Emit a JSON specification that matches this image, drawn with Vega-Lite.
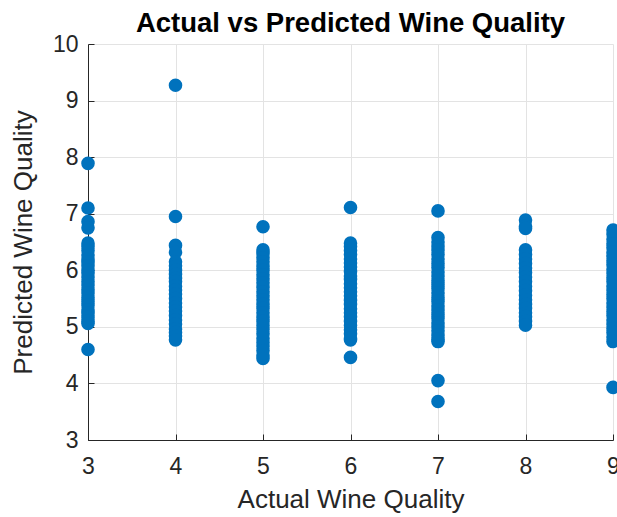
{
  "$schema": "https://vega.github.io/schema/vega-lite/v6.json",
  "autosize": {"type": "none"},
  "width": 525,
  "height": 396,
  "padding": {"left": 88, "top": 44, "right": 4, "bottom": 77},
  "background": "white",
  "title": {
    "text": "Actual vs Predicted Wine Quality",
    "font": "Liberation Sans",
    "fontSize": 27.5,
    "fontWeight": "bold",
    "color": "#000000",
    "anchor": "middle",
    "offset": 4,
    "dy": 8
  },
  "config": {
    "view": {"stroke": null},
    "axis": {
      "labelFont": "Liberation Sans",
      "titleFont": "Liberation Sans",
      "labelColor": "#262626",
      "titleColor": "#262626",
      "domainColor": "#262626",
      "tickColor": "#262626",
      "gridColor": "#e3e3e3",
      "gridWidth": 1,
      "domainWidth": 1,
      "tickWidth": 1,
      "tickSize": -6,
      "labelFontSize": 23,
      "titleFontSize": 26,
      "titleFontWeight": "normal",
      "grid": true
    }
  },
  "data": {
    "values": [
      {"actual": 3, "predicted": 7.89}, {"actual": 3, "predicted": 7.10}, {"actual": 3, "predicted": 6.86}, {"actual": 3, "predicted": 6.75},
      {"actual": 3, "predicted": 6.48}, {"actual": 3, "predicted": 6.42}, {"actual": 3, "predicted": 6.35}, {"actual": 3, "predicted": 6.27},
      {"actual": 3, "predicted": 6.20}, {"actual": 3, "predicted": 6.14}, {"actual": 3, "predicted": 6.08}, {"actual": 3, "predicted": 6.00},
      {"actual": 3, "predicted": 5.95}, {"actual": 3, "predicted": 5.88}, {"actual": 3, "predicted": 5.80}, {"actual": 3, "predicted": 5.74},
      {"actual": 3, "predicted": 5.66}, {"actual": 3, "predicted": 5.60}, {"actual": 3, "predicted": 5.52}, {"actual": 3, "predicted": 5.45},
      {"actual": 3, "predicted": 5.38}, {"actual": 3, "predicted": 5.30}, {"actual": 3, "predicted": 5.24}, {"actual": 3, "predicted": 5.17},
      {"actual": 3, "predicted": 5.10}, {"actual": 3, "predicted": 5.06}, {"actual": 3, "predicted": 4.60},
      {"actual": 4, "predicted": 9.27}, {"actual": 4, "predicted": 6.95}, {"actual": 4, "predicted": 6.44}, {"actual": 4, "predicted": 6.32},
      {"actual": 4, "predicted": 6.15}, {"actual": 4, "predicted": 6.08}, {"actual": 4, "predicted": 6.00}, {"actual": 4, "predicted": 5.93},
      {"actual": 4, "predicted": 5.86}, {"actual": 4, "predicted": 5.80}, {"actual": 4, "predicted": 5.72}, {"actual": 4, "predicted": 5.65},
      {"actual": 4, "predicted": 5.58}, {"actual": 4, "predicted": 5.50}, {"actual": 4, "predicted": 5.42}, {"actual": 4, "predicted": 5.35},
      {"actual": 4, "predicted": 5.28}, {"actual": 4, "predicted": 5.20}, {"actual": 4, "predicted": 5.12}, {"actual": 4, "predicted": 5.05},
      {"actual": 4, "predicted": 4.96}, {"actual": 4, "predicted": 4.90}, {"actual": 4, "predicted": 4.84}, {"actual": 4, "predicted": 4.77},
      {"actual": 5, "predicted": 6.77}, {"actual": 5, "predicted": 6.36}, {"actual": 5, "predicted": 6.30}, {"actual": 5, "predicted": 6.22},
      {"actual": 5, "predicted": 6.15}, {"actual": 5, "predicted": 6.07}, {"actual": 5, "predicted": 6.00}, {"actual": 5, "predicted": 5.92},
      {"actual": 5, "predicted": 5.85}, {"actual": 5, "predicted": 5.78}, {"actual": 5, "predicted": 5.70}, {"actual": 5, "predicted": 5.62},
      {"actual": 5, "predicted": 5.55}, {"actual": 5, "predicted": 5.48}, {"actual": 5, "predicted": 5.40}, {"actual": 5, "predicted": 5.33},
      {"actual": 5, "predicted": 5.25}, {"actual": 5, "predicted": 5.17}, {"actual": 5, "predicted": 5.10}, {"actual": 5, "predicted": 5.03},
      {"actual": 5, "predicted": 4.96}, {"actual": 5, "predicted": 4.88}, {"actual": 5, "predicted": 4.80}, {"actual": 5, "predicted": 4.73},
      {"actual": 5, "predicted": 4.66}, {"actual": 5, "predicted": 4.58}, {"actual": 5, "predicted": 4.50}, {"actual": 5, "predicted": 4.44},
      {"actual": 6, "predicted": 7.11}, {"actual": 6, "predicted": 6.48}, {"actual": 6, "predicted": 6.42}, {"actual": 6, "predicted": 6.35},
      {"actual": 6, "predicted": 6.28}, {"actual": 6, "predicted": 6.20}, {"actual": 6, "predicted": 6.13}, {"actual": 6, "predicted": 6.06},
      {"actual": 6, "predicted": 5.98}, {"actual": 6, "predicted": 5.90}, {"actual": 6, "predicted": 5.84}, {"actual": 6, "predicted": 5.76},
      {"actual": 6, "predicted": 5.69}, {"actual": 6, "predicted": 5.62}, {"actual": 6, "predicted": 5.55}, {"actual": 6, "predicted": 5.47},
      {"actual": 6, "predicted": 5.40}, {"actual": 6, "predicted": 5.32}, {"actual": 6, "predicted": 5.25}, {"actual": 6, "predicted": 5.18},
      {"actual": 6, "predicted": 5.10}, {"actual": 6, "predicted": 5.03}, {"actual": 6, "predicted": 4.95}, {"actual": 6, "predicted": 4.88},
      {"actual": 6, "predicted": 4.80}, {"actual": 6, "predicted": 4.77}, {"actual": 6, "predicted": 4.46},
      {"actual": 7, "predicted": 7.05}, {"actual": 7, "predicted": 6.58}, {"actual": 7, "predicted": 6.50}, {"actual": 7, "predicted": 6.43},
      {"actual": 7, "predicted": 6.36}, {"actual": 7, "predicted": 6.28}, {"actual": 7, "predicted": 6.20}, {"actual": 7, "predicted": 6.12},
      {"actual": 7, "predicted": 6.05}, {"actual": 7, "predicted": 5.97}, {"actual": 7, "predicted": 5.90}, {"actual": 7, "predicted": 5.82},
      {"actual": 7, "predicted": 5.75}, {"actual": 7, "predicted": 5.68}, {"actual": 7, "predicted": 5.60}, {"actual": 7, "predicted": 5.52},
      {"actual": 7, "predicted": 5.45}, {"actual": 7, "predicted": 5.37}, {"actual": 7, "predicted": 5.30}, {"actual": 7, "predicted": 5.22},
      {"actual": 7, "predicted": 5.15}, {"actual": 7, "predicted": 5.07}, {"actual": 7, "predicted": 5.00}, {"actual": 7, "predicted": 4.93},
      {"actual": 7, "predicted": 4.85}, {"actual": 7, "predicted": 4.78}, {"actual": 7, "predicted": 4.74}, {"actual": 7, "predicted": 4.05},
      {"actual": 7, "predicted": 3.68},
      {"actual": 8, "predicted": 6.89}, {"actual": 8, "predicted": 6.78}, {"actual": 8, "predicted": 6.74}, {"actual": 8, "predicted": 6.36},
      {"actual": 8, "predicted": 6.28}, {"actual": 8, "predicted": 6.20}, {"actual": 8, "predicted": 6.12}, {"actual": 8, "predicted": 6.04},
      {"actual": 8, "predicted": 5.96}, {"actual": 8, "predicted": 5.88}, {"actual": 8, "predicted": 5.80}, {"actual": 8, "predicted": 5.72},
      {"actual": 8, "predicted": 5.64}, {"actual": 8, "predicted": 5.56}, {"actual": 8, "predicted": 5.48}, {"actual": 8, "predicted": 5.40},
      {"actual": 8, "predicted": 5.33}, {"actual": 8, "predicted": 5.25}, {"actual": 8, "predicted": 5.18}, {"actual": 8, "predicted": 5.10},
      {"actual": 8, "predicted": 5.03},
      {"actual": 9, "predicted": 6.71}, {"actual": 9, "predicted": 6.64}, {"actual": 9, "predicted": 6.55}, {"actual": 9, "predicted": 6.47},
      {"actual": 9, "predicted": 6.40}, {"actual": 9, "predicted": 6.32}, {"actual": 9, "predicted": 6.25}, {"actual": 9, "predicted": 6.17},
      {"actual": 9, "predicted": 6.10}, {"actual": 9, "predicted": 6.02}, {"actual": 9, "predicted": 5.95}, {"actual": 9, "predicted": 5.87},
      {"actual": 9, "predicted": 5.80}, {"actual": 9, "predicted": 5.72}, {"actual": 9, "predicted": 5.65}, {"actual": 9, "predicted": 5.57},
      {"actual": 9, "predicted": 5.50}, {"actual": 9, "predicted": 5.42}, {"actual": 9, "predicted": 5.35}, {"actual": 9, "predicted": 5.27},
      {"actual": 9, "predicted": 5.20}, {"actual": 9, "predicted": 5.12}, {"actual": 9, "predicted": 5.05}, {"actual": 9, "predicted": 4.97},
      {"actual": 9, "predicted": 4.90}, {"actual": 9, "predicted": 4.82}, {"actual": 9, "predicted": 4.74}, {"actual": 9, "predicted": 3.93}
    ]
  },
  "mark": {"type": "point", "filled": true, "shape": "circle", "color": "#0072BD", "opacity": 1, "size": 185},
  "encoding": {
    "x": {
      "field": "actual",
      "type": "quantitative",
      "scale": {"domain": [3, 9], "nice": false, "zero": false},
      "axis": {"title": "Actual Wine Quality", "values": [3, 4, 5, 6, 7, 8, 9], "format": "d", "labelPadding": 21, "titlePadding": 8, "labelFlush": false}
    },
    "y": {
      "field": "predicted",
      "type": "quantitative",
      "scale": {"domain": [3, 10], "nice": false, "zero": false},
      "axis": {"title": "Predicted Wine Quality", "values": [3, 4, 5, 6, 7, 8, 9, 10], "format": "d", "labelPadding": 16, "titlePadding": 16, "labelFlush": false}
    }
  }
}
